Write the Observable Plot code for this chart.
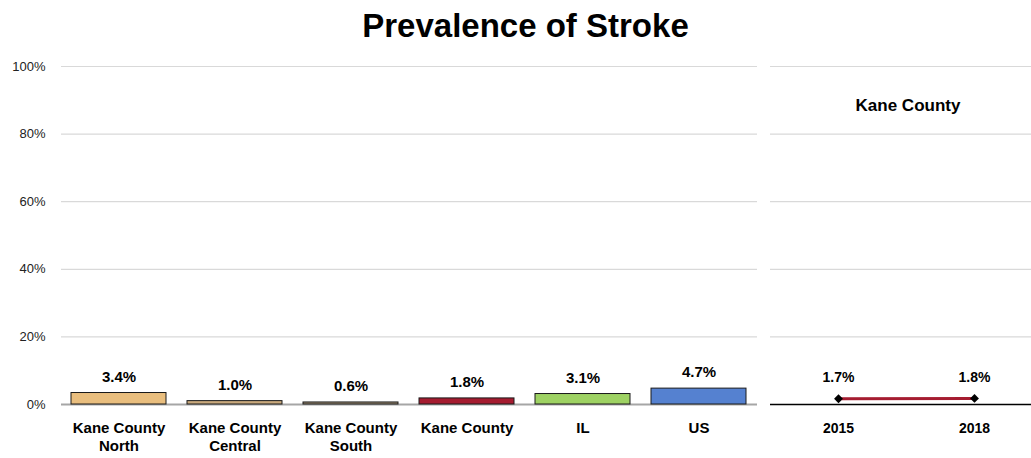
<!DOCTYPE html>
<html><head><meta charset="utf-8">
<script src="https://cdn.jsdelivr.net/npm/d3@7"></script>
<script src="https://cdn.jsdelivr.net/npm/@observablehq/plot@0.6"></script>
<style>
body{margin:0;background:#fff;font-family:"Liberation Sans",Arial,sans-serif;}
#title{height:48px;width:1031px;box-sizing:border-box;padding-left:20px;padding-top:4px;text-align:center;font-weight:bold;font-size:33px;line-height:44px;color:#000;}
#row{display:flex;width:1031px;}
svg{display:block}
</style></head><body>
<div id="title">Prevalence of Stroke</div>
<div id="row"></div>
<script>
const categories = ["Kane County North", "Kane County Central", "Kane County South", "Kane County", "IL", "US"];
const tickLabels = ["Kane County\nNorth", "Kane County\nCentral", "Kane County\nSouth", "Kane County", "IL", "US"];
const values = [0.034, 0.010, 0.006, 0.018, 0.031, 0.047];
const valueLabels = ["3.4%", "1.0%", "0.6%", "1.8%", "3.1%", "4.7%"];
const colors = ["#E9BE7E", "#C9A97D", "#9E8D73", "#A51C30", "#9ED263", "#5581D0"];
const trendTitle = "Kane County";
const years = ["2015", "2018"];
const trendValues = [0.017, 0.018];
const trendLabels = ["1.7%", "1.8%"];
const yTicks = [0, 0.2, 0.4, 0.6, 0.8, 1];
const yTickLabels = ["0%", "20%", "40%", "60%", "80%", "100%"];

const bars = categories.map((c, i) => ({cat: c, value: values[i], label: valueLabels[i], color: colors[i]}));
const trend = years.map((y, i) => ({year: y, value: trendValues[i], label: trendLabels[i]}));
const font = `"Liberation Sans", Arial, sans-serif`;

const left = Plot.plot({
  width: 765, height: 410,
  marginLeft: 61, marginRight: 8, marginTop: 18, marginBottom: 54,
  style: {fontFamily: font, background: "#fff", color: "#000"},
  x: {domain: categories, paddingInner: 0.18, paddingOuter: 0.09, label: null},
  y: {domain: [0, 1], label: null},
  marks: [
    Plot.gridY(yTicks.slice(1), {stroke: "#d9d9d9", strokeOpacity: 1, strokeWidth: 1.2}),
    Plot.axisY(yTicks, {tickSize: 0, tickPadding: 16, fontSize: 13, fill: "#222",
      tickFormat: (d) => yTickLabels[yTicks.indexOf(d)], label: null}),
    Plot.ruleY([0], {stroke: "#a6a6a6", strokeWidth: 2}),
    Plot.barY(bars, {x: "cat", y: "value", fill: "color", stroke: "#1a1a1a", strokeWidth: 1}),
    Plot.text(bars, {x: "cat", y: "value", text: "label", dy: -16, lineAnchor: "middle",
      fontWeight: "bold", fontSize: 15, fill: "#000"}),
    Plot.axisX({tickSize: 0, tickPadding: 16, fontSize: 15, fontWeight: "bold", fill: "#000",
      lineHeight: 1.2, tickFormat: (d) => tickLabels[categories.indexOf(d)], label: null})
  ]
});

const right = Plot.plot({
  width: 266, height: 410,
  marginLeft: 5, marginRight: 0, marginTop: 18, marginBottom: 54,
  style: {fontFamily: font, background: "#fff", color: "#000"},
  x: {type: "point", domain: years, range: [73, 209], padding: 0, label: null},
  y: {domain: [0, 1], axis: null, label: null},
  marks: [
    Plot.gridY(yTicks.slice(1), {stroke: "#d9d9d9", strokeOpacity: 1, strokeWidth: 1.2}),
    Plot.ruleY([0], {stroke: "#000", strokeWidth: 1.3}),
    Plot.text([trendTitle], {frameAnchor: "top", dx: 7, dy: 39, lineAnchor: "middle",
      fontWeight: "bold", fontSize: 17, fill: "#000"}),
    Plot.line(trend, {x: "year", y: "value", stroke: "#A51C30", strokeWidth: 3}),
    Plot.dot(trend, {x: "year", y: "value", symbol: "diamond2", r: 4, fill: "#000", stroke: "none"}),
    Plot.text(trend, {x: "year", y: "value", text: "label", dy: -21, lineAnchor: "middle",
      fontWeight: "bold", fontSize: 14, fill: "#000"}),
    Plot.axisX({tickSize: 0, tickPadding: 19, fontSize: 14, fontWeight: "bold", fill: "#000", label: null})
  ]
});

document.getElementById("row").append(left, right);
</script>
</body></html>
